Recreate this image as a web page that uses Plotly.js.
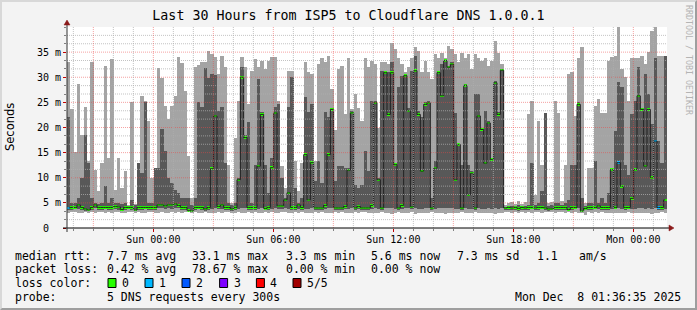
<!DOCTYPE html>
<html><head><meta charset="utf-8">
<script src="https://cdn.plot.ly/plotly-3.0.1.min.js"></script>
<style>
html,body{margin:0;padding:0;background:#f3f3f3;}
#chart{width:697px;height:310px;position:absolute;left:0;top:0;}
#frame{position:absolute;left:0;top:0;width:697px;height:310px;box-sizing:border-box;border-top:2px solid #d8d8d8;border-left:2px solid #d8d8d8;border-right:2px solid #9e9e9e;border-bottom:2px solid #9e9e9e;pointer-events:none;}
</style></head><body>
<div id="chart"></div><div id="frame"></div>
<script>
// ---- data (10-minute bins, Sat 19:41 -> Mon 01:41) ----
const startTime = Date.UTC(2025, 11, 6, 19, 41, 0);
const endTime = Date.UTC(2025, 11, 8, 1, 41, 0);
const stepMinutes = 10;

const minRtt = [
3.0,3.2,3.1,3.0,2.9,3.1,3.0,3.2,3.0,3.1, 3.2,3.0,3.1,3.0,3.2,3.1,2.9,3.0,3.2,3.1, 3.0,3.1,2.9,3.0,3.2,3.1,3.0,3.0,3.1,2.9, 3.0,3.1,3.0,3.2,3.0,3.1,
3.1,3.0,3.2,3.0,2.9,3.1,3.0,3.0,2.9,3.1, 3.0,3.2,3.1,3.0,2.9,3.1,3.0,2.9,3.1,3.0, 3.2,3.0,2.9,3.1,3.0,3.1,2.9,3.0,3.2,3.1, 3.0,2.9,3.1,3.0,3.2,3.0,
3.0,2.9,3.1,3.0,3.2,3.0,2.9,2.9,3.1,3.0, 3.2,3.0,2.9,3.0,3.1,3.0,3.2,3.1,3.0,2.9, 2.9,3.0,3.1,2.9,3.0,2.8,3.0,3.1,3.0,2.9, 3.0,3.1,2.8,2.9,3.0,2.9,
3.0,3.1,2.9,2.9,3.0,2.8,2.9,3.0,3.0,2.9, 3.1,2.9,3.0,3.0,3.1,2.9,3.0,3.0,2.9,3.0, 2.8,2.9,3.0,3.2,3.1,3.0,3.2,2.9,3.1,3.0, 3.1,3.0,3.2,3.1,3.0,3.1,
3.1,3.2,3.0,3.1,3.2,3.0,3.1,3.0,3.1,2.9, 3.0,2.6,3.1,3.0,3.1,3.0,3.1,3.0,3.0,2.9, 3.0,2.9,2.9,3.0,3.1,2.9,3.0,2.9,2.9,3.0, 2.9,2.8,2.9,3.0,3.1,3.0
];
const lowRtt = [
3.5,3.6,3.7,3.8,3.6,3.4,3.3,3.6,3.9,3.5, 3.6,3.7,3.5,3.6,3.8,3.6,3.4,3.6,3.7,3.5, 3.3,3.6,3.5,3.7,3.6,3.5,3.6,3.9,4.0,3.8, 3.9,3.8,4.0,3.9,3.6,3.5,
3.3,3.2,3.6,3.7,3.5,3.4,3.6,3.8,3.9,3.7, 3.8,3.6,3.5,3.4,3.6,3.8,4.0,3.9,3.6,3.5, 3.6,3.8,3.9,3.5,3.6,3.7,3.9,3.8,3.7,3.9, 3.8,3.6,3.5,3.8,3.6,3.7,
3.8,3.9,3.6,3.5,3.6,3.8,3.9,4.0,3.5,3.6, 3.6,3.7,3.8,3.9,3.5,3.7,3.6,3.5,3.6,3.8, 3.9,3.8,3.6,4.0,3.9,4.0,3.8,3.6,3.8,3.9, 3.9,3.7,4.0,3.8,3.8,3.9,
3.9,3.6,3.8,4.0,3.9,4.0,4.0,3.9,3.8,3.8, 3.6,3.9,3.7,3.8,3.6,3.9,3.8,3.8,3.9,3.8, 3.9,3.8,3.9,3.5,3.6,3.5,3.6,3.4,3.6,3.5, 3.6,3.7,3.5,3.6,3.7,3.6,
3.4,3.5,3.6,3.6,3.5,3.6,3.4,3.6,3.7,3.9, 3.2,3.5,3.6,3.5,3.7,3.8,3.6,3.5,3.6,3.8, 3.7,3.9,3.8,3.6,3.7,3.8,3.8,3.9,3.9,3.8, 3.9,3.8,3.9,3.6,3.6,3.8
];
const medianRtt = [
4.0,4.1,4.1,4.6,4.1,3.8,3.6,4.1,4.6,4.1, 4.1,4.1,4.1,4.1,4.3,4.2,3.7,4.1,4.1,4.1, 3.6,4.1,4.1,4.1,4.1,4.1,4.1,4.6,4.6,4.4, 4.6,4.6,4.8,4.5,4.1,4.1,
3.5,3.4,4.1,4.1,4.1,3.8,4.1,11.8,22.3,4.3, 4.6,4.1,4.1,3.8,4.1,9.6,30,18,4.1,4.1, 4.1,12.3,22.6,3.9,4.1,12,22.9,4.4,4.4,5.6, 7,4.1,4.1,4.6,4.1,14.6,
5.6,13,4,4,4,4.5,14.6,23.6,4,4, 4,4.3,11.5,22.9,4,4.3,4,4,4,4.5, 24.9,9.6,4,30.9,22.6,30.9,12.6,4,4.5,30.3, 23.3,4.2,31.3,22.6,11.3,24.6,
24.9,4,11.9,30.9,26.3,33.3,32,32.6,9.6,16.6, 4,28.4,6.6,10.9,4,22.3,19.6,12.9,20.9,13.6, 28.9,22.6,31.4,4,4.1,4,4.1,3.9,4.1,4, 4.1,4.1,4,4.1,4.1,4,
3.8,3.8,4.1,4.1,4.1,4.1,3.7,4.1,4.1,24.6, 3.4,3.9,4.1,4.1,4.1,4.4,4.1,4.1,4.1,11.6, 4.1,13,8.3,4.1,4.1,5.9,11.6,26.3,23.6,12.3, 23.6,10,17.3,4.1,4.1,5.6
];
const highRtt = [
22,5,5,6,10,18.6,13,6,5,4.8, 5,8.3,5,6,5,5,4.8,5,4.4,5.5, 4.5,12.9,11,25,5,5,12,12,19.7,15.3, 10,9,7.5,7,6,6,
6,4.5,6,25,24,31.9,29.9,30.7,30.5,23.3, 24,13,5,4.5,5,10,32,18.5,21,5, 12.6,29.6,23,12.6,7,14,24,24.6,10,6, 24,30,8,5,6,26,
23,24.6,9.3,13.3,9,23,22,23.9,9.3,12.3, 12.3,12,12,23.3,8.6,8,8.6,15.3,11.3,25.3, 25.3,10,31.3,31.3,31,33,13,28,30.3,30.6, 23.9,31.3,34.3,23.3,22,25,
25.3,6,13.3,31.3,32.6,33.6,32.3,33,22.9,17, 12.6,28.6,12.6,11.3,26.6,26.6,20,23.3,21.3,14, 29.3,23,31.6,4.2,4.3,4.4,4.2,4.5,4.3,4.4, 4.5,12.9,4.5,5,7.3,22.9,
4.4,4.5,5,5,4.5,5,5.5,12.6,12.6,25, 6,4.4,5,5,13.3,5,6,5,7,12, 19.3,29,28,12.6,10.6,22.6,25.3,32,23.9,30.6, 26.6,20.6,33.9,17.3,13,34.3
];
const maxRtt = [
33,23.6,15.2,28.6,18.6,24,13.3,33,11.6,7.3, 12.9,32.3,13.9,33.6,7.5,14,8,11.3,4.6,25.1, 4.8,12.9,26.3,25.3,21.3,10,12,31.9,29.9,24.3, 21.6,24.3,26.3,34,32.9,27.3,
14.3,6,32,32.5,33,33,35.3,34.6,34,30.6, 34.3,32,12.6,5,18,25.3,34,32,24.6,31.3, 33.6,32,33.3,31.6,33.3,34,34,25.3,12.3,8, 31.3,31.3,13.3,7.3,13,33,
31,30.6,13.3,32.6,33.9,33,34.3,27.6,19.6,31.6, 32.3,22.6,33.9,23.6,26.6,23.9,21.3,33.9,32,33.3, 32.6,20,33,33,32.6,36.9,35.6,33.9,32.6,31, 32,33.9,36,35.3,31,33.3,
31,29.6,34.6,33.9,34.9,33.9,36.3,35.6,34.6,33, 34.9,33.9,34.6,31.6,34.6,33.9,33.3,33.9,32.3,33.3, 37.3,34.9,32.6,4.6,4.9,5.2,4.7,5.4,4.8,5.1, 22.6,25.3,6.6,21.3,12.6,22.9,
5,5.2,25.3,22.9,5.3,12.6,30.6,31,22.3,33.9, 36,5,12,12,24.3,25.6,22.9,22.9,33.3,34, 34.3,40,31.6,30,25.3,33.9,33.9,33.9,34.3,32.6, 35,39.3,40,34.3,34.3,34.3
];
const lossLevel = [
1,0,0,0,0,0,0,0,0,0, 0,0,0,0,0,0,0,0,0,0, 0,0,0,0,0,0,0,0,0,0, 0,0,0,0,0,0,
0,0,0,0,0,0,0,0,0,0, 0,0,0,0,0,0,0,0,0,0, 0,0,0,0,0,0,0,0,0,0, 0,0,0,0,0,0,
0,0,0,0,0,0,0,0,0,0, 0,0,0,0,0,0,0,0,0,0, 0,0,0,0,0,0,0,0,0,0, 0,0,0,0,0,0,
0,0,0,0,0,0,0,0,0,0, 0,0,0,0,0,0,0,0,0,0, 0,0,0,0,0,0,0,0,0,0, 0,0,0,0,0,0,
0,0,0,0,0,0,0,0,0,0, 0,0,0,0,0,0,0,0,0,0, 0,1,0,0,0,0,0,0,0,0, 0,0,1,1,0,0
];
const lossColors = ['#26ff00','#00b8ff','#0059ff','#7e00ff','#ff0000','#a10000'];
const lossLabels = ['0','1','2','3','4','5/5'];

const xTickVals = ['2025-12-07 00:00','2025-12-07 06:00','2025-12-07 12:00','2025-12-07 18:00','2025-12-08 00:00'];
const xTickText = ['Sun 00:00','Sun 06:00','Sun 12:00','Sun 18:00','Mon 00:00'];
const yTickVals = [0,5,10,15,20,25,30,35];
const yTickText = ['0\u00a0\u00a0','5 m','10 m','15 m','20 m','25 m','30 m','35 m'];

const titleText = 'Last 30 Hours from ISP5 to Cloudflare DNS 1.0.0.1';
const statRows = [
  ['median rtt:', '7.7 ms avg', '33.1 ms max', '3.3 ms min', '5.6 ms now', '7.3 ms sd', '1.1', 'am/s'],
  ['packet loss:', '0.42 % avg', '78.67 % max', '0.00 % min', '0.00 % now']
];
const probeText = '5 DNS requests every 300s';
const stampText = 'Mon Dec  8 01:36:35 2025';

// ---- helpers ----
function fmt(ms){ return new Date(ms).toISOString().slice(0,19).replace('T',' '); }
const binMs = stepMinutes*60*1000;
const hourMs = 3600000;
const times = minRtt.map((_, i) => fmt(startTime + i*binMs + binMs/2));
const L = 67, T = 27, PW = 600, PH = 201;
const px = x => (x - L)/PW;
const py = y => (T + PH - y)/PH;
const mono = 'DejaVu Sans Mono';

const traces = [
  {type:'bar', x:times, base:minRtt, y:maxRtt.map((v,i)=>v-minRtt[i]), width:binMs,
   marker:{color:'#a4a4a4', line:{width:0}}, hoverinfo:'skip'},
  {type:'bar', x:times, base:lowRtt, y:highRtt.map((v,i)=>v-lowRtt[i]), width:binMs,
   marker:{color:'#585858', line:{width:0}}, hoverinfo:'skip'},
  {type:'scatter', mode:'lines', x:times, y:medianRtt, line:{color:'#202020', width:1, shape:'hvh'}, hoverinfo:'skip'},
  {type:'bar', x:times, base:medianRtt.map(v=>v-0.25), y:medianRtt.map(()=>0.5), width:binMs,
   marker:{color:lossColors.length ? lossLevel.map(l=>lossColors[l]) : '#26ff00', line:{width:0}}, hoverinfo:'skip'}
];

const annotations = [];
const shapes = [];

// dotted grid drawn over the smoke (as rrdtool does)
const minorGrid = 'rgba(175,175,175,0.75)', majorGrid = 'rgba(235,70,70,0.5)';
for (let k = 1; k*5/3 < 40; k++) {
  const v = k*5/3;
  const major = (k % 3 === 0);
  shapes.push({type:'line', xref:'paper', yref:'y', x0:0, x1:1, y0:v, y1:v, layer:'above',
    line:{color: major ? majorGrid : minorGrid, width:1, dash:'1px,1px'}});
}
const firstHour = Date.UTC(2025, 11, 6, 20, 0, 0);
for (let t = firstHour; t < endTime; t += hourMs) {
  const h = new Date(t).getUTCHours();
  const major = (h % 3 === 0);
  shapes.push({type:'line', xref:'x', yref:'paper', x0:fmt(t), x1:fmt(t), y0:0, y1:1, layer:'above',
    line:{color: major ? majorGrid : minorGrid, width:1, dash:'1px,1px'}});
}

function txt(x, y, s, opts){
  annotations.push(Object.assign({xref:'paper', yref:'paper', x:px(x), y:py(y), text:s, showarrow:false,
    xanchor:'left', yanchor:'middle', font:{family:mono, size:11.5, color:'#000'}}, opts||{}));
}
const colX = [16, 107.6, 193.3, 286.7, 372.4, 457.8, 537.8, 580];
const rowY = [256, 269, 283, 297];
statRows.forEach((row, r) => row.forEach((s, c) => txt(colX[c]-3, rowY[r], s)));
txt(16-3, rowY[2], 'loss color:');
const boxX = [108, 145, 182, 219.6, 256.4, 293];
lossLabels.forEach((lab, i) => {
  shapes.push({type:'rect', xref:'paper', yref:'paper', x0:px(boxX[i]), x1:px(boxX[i]+8), y0:py(rowY[2]+4.5), y1:py(rowY[2]-4.5),
    fillcolor:lossColors[i], line:{color:'#000', width:1}});
  txt(boxX[i]+15-3, rowY[2], lab);
});
txt(16-3, rowY[3], 'probe:');
txt(107.6-3, rowY[3], probeText);
txt(680+3, rowY[3], stampText, {xanchor:'right'});
annotations.push({xref:'paper', yref:'paper', x:px(10), y:py(127), text:'Seconds', textangle:-90, showarrow:false,
  xanchor:'center', yanchor:'middle', font:{family:'DejaVu Sans', size:11.5, color:'#000'}});
annotations.push({xref:'paper', yref:'paper', x:px(689), y:py(60), text:'RRDTOOL / TOBI OETIKER', textangle:90, showarrow:false,
  xanchor:'center', yanchor:'middle', font:{family:mono, size:8.3, color:'#b4b4b4'}});

// axis lines & arrows
shapes.push({type:'line', xref:'paper', yref:'paper', x0:px(63), x1:px(671), y0:py(228), y1:py(228), line:{color:'#000', width:1}, layer:'above'});
shapes.push({type:'line', xref:'paper', yref:'paper', x0:px(67), x1:px(67), y0:py(232), y1:py(23), line:{color:'#303030', width:1}, layer:'above'});
shapes.push({type:'path', xref:'paper', yref:'paper', path:`M ${px(669)} ${py(225)} L ${px(669)} ${py(231)} L ${px(674)} ${py(228)} Z`, fillcolor:'#8b1a1a', line:{color:'#8b1a1a', width:0.5}, layer:'above'});
shapes.push({type:'path', xref:'paper', yref:'paper', path:`M ${px(64)} ${py(25)} L ${px(70)} ${py(25)} L ${px(67)} ${py(20)} Z`, fillcolor:'#8b1a1a', line:{color:'#8b1a1a', width:0.5}, layer:'above'});

const layout = {
  width:697, height:310,
  margin:{l:L, r:697-L-PW, t:T, b:310-T-PH, pad:0},
  paper_bgcolor:'#f3f3f3', plot_bgcolor:'#ffffff',
  showlegend:false, barmode:'overlay', bargap:0,
  title:{text:titleText, font:{family:mono, size:13.3, color:'#000'}, x:0.5, xref:'container', xanchor:'center', y:1-15/310, yref:'container', yanchor:'middle'},
  xaxis:{type:'date', range:[fmt(startTime), fmt(endTime)], tickmode:'array', tickvals:xTickVals, ticktext:xTickText,
    showgrid:false, zeroline:false, showline:false,
    ticks:'outside', ticklen:3, tickcolor:'#c00000', ticklabelstandoff:-1, tickfont:{family:mono, size:10, color:'#000'},
    minor:{tickmode:'linear', tick0:fmt(firstHour), dtick:hourMs, showgrid:false, ticks:'outside', ticklen:2, tickcolor:'#808080'},
    fixedrange:true},
  yaxis:{range:[0,40], tickmode:'array', tickvals:yTickVals, ticktext:yTickText,
    showgrid:false, zeroline:false, showline:false,
    ticks:'outside', ticklen:3, tickcolor:'#c00000', tickfont:{family:mono, size:10, color:'#000'},
    minor:{tickmode:'linear', tick0:0, dtick:5/3, showgrid:false, ticks:'outside', ticklen:2, tickcolor:'#808080'},
    fixedrange:true},
  annotations:annotations, shapes:shapes
};
Plotly.newPlot('chart', traces, layout, {staticPlot:true, displayModeBar:false});
</script>
</body></html>
